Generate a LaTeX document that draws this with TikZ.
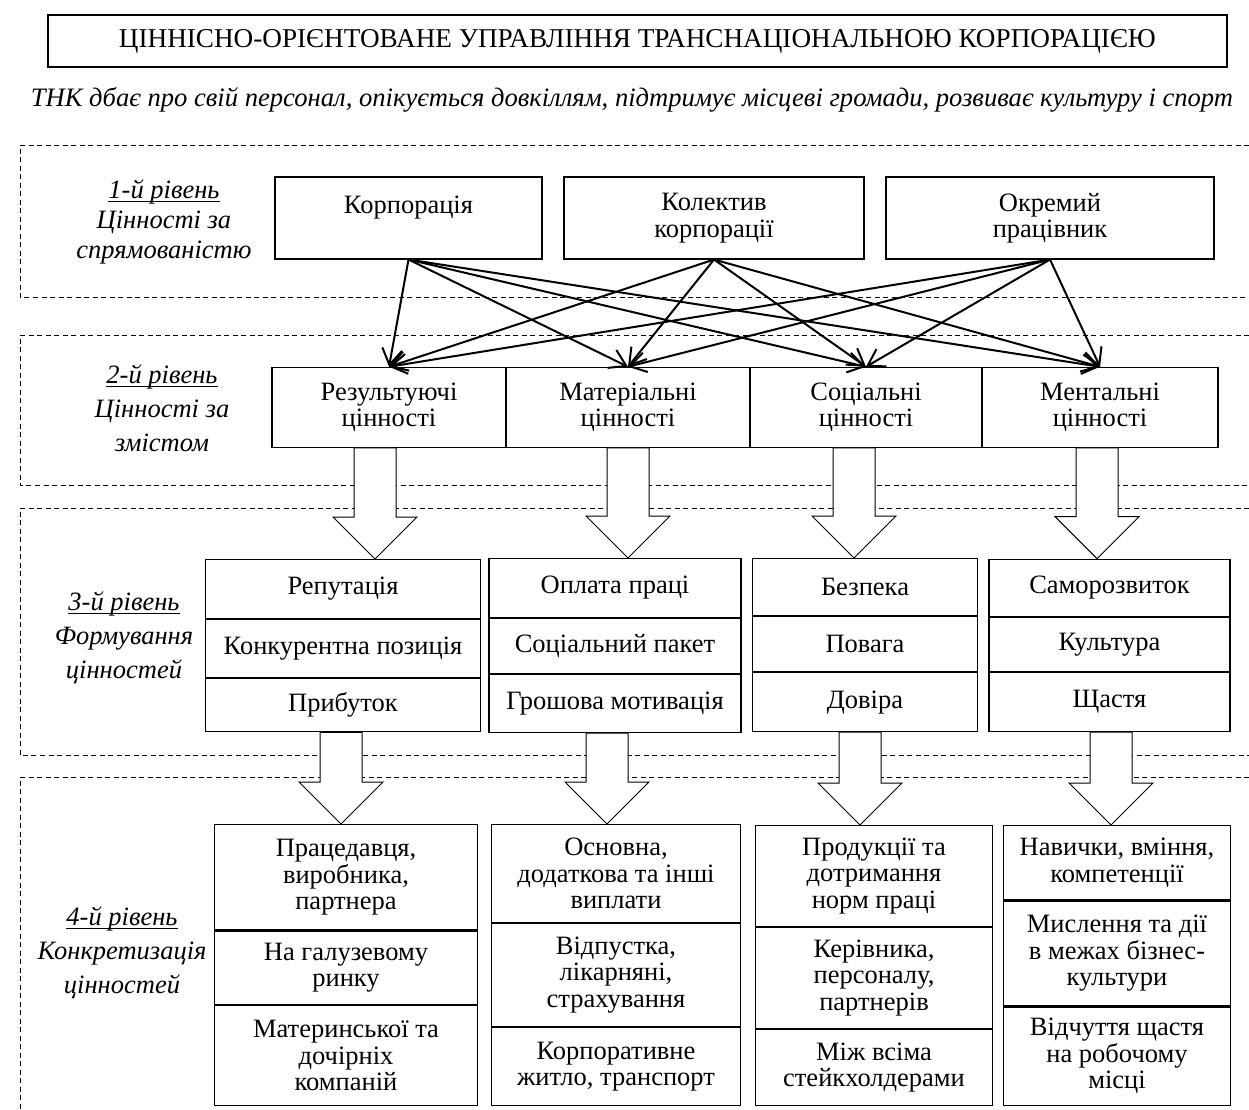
\documentclass[tikz,border=0pt]{standalone}
\usepackage{fontspec}
\setmainfont{Liberation Serif}
\usetikzlibrary{arrows.meta}
\newcommand\lvlline[1]{\setbox0\hbox{#1}\rlap{\rule[-3.5pt]{\wd0}{1.3pt}}\box0}
\tikzset{
  every picture/.style={
    x=1pt, y=-1pt,
    >={Straight Barb[length=16pt, width=20pt]}
  },
  frame/.style={dash pattern=on 5pt off 3.5pt, line width=0.9pt},
  box/.style={
    draw, line width=1.1pt, align=center, inner sep=2pt,
    font=\fontsize{26.5}{26.5}\selectfont
  },
  row/.style={box, anchor=north},
  level/.style={align=center, font=\itshape\fontsize{26.5}{34}\selectfont},
  bigarrow/.style={draw, fill=white, line width=1pt}
}

\begin{document}
\begin{tikzpicture}
  \useasboundingbox (0,0) rectangle (1249,1109);
  \foreach \t/\b in {145/297, 335/485, 508/755}
    \draw [frame] (1249,\t) -- (20,\t) -- (20,\b) -- (1249,\b);
  \draw [frame] (1249,777) -- (20,777) -- (20,1109);

  \node [box, minimum width=1179, minimum height=52, font=\fontsize{27.2}{27}\selectfont] (title) at (637.5,41)
    {ЦІННІСНО-ОРІЄНТОВАНЕ УПРАВЛІННЯ ТРАНСНАЦІОНАЛЬНОЮ КОРПОРАЦІЄЮ};
  \node [font=\itshape\fontsize{26.6}{27}\selectfont] (sub) at (632,100)
    {ТНК дбає про свій персонал, опікується довкіллям, підтримує місцеві громади, розвиває культуру і спорт};

  \node [level, font=\itshape\fontsize{26.5}{30}\selectfont] (l1) at (164,221.7)
    {\lvlline{1-й рівень}\\Цінності за\\спрямованістю};
  \node [level] (l2) at (162,408) {\lvlline{2-й рівень}\\Цінності за\\змістом};
  \node [level] (l3) at (124,638) {\lvlline{3-й рівень}\\Формування\\цінностей};
  \node [level] (l4) at (122,952.7) {\lvlline{4-й рівень}\\Конкретизація\\цінностей};

  \node [box, minimum width=267, minimum height=82] (k1) at (408.5,218) {Корпорація\\\mbox{}};
  \node [box, minimum width=300, minimum height=82] (k2) at (714,218) {Колектив\\корпорації};
  \node [box, minimum width=328, minimum height=82] (k3) at (1050,218) {Окремий\\працівник};

  \node [box, minimum width=234, minimum height=80] (r1) at (389,407.3) {Результуючі\\цінності};
  \node [box, minimum width=244, minimum height=80] (r2) at (628,407.3) {Матеріальні\\цінності};
  \node [box, minimum width=232, minimum height=80] (r3) at (866,407.3) {Соціальні\\цінності};
  \node [box, minimum width=236, minimum height=80] (r4) at (1100,407.3) {Ментальні\\цінності};

  \node [row, minimum width=274.5, minimum height=58.7] (a1) at (343,559) {Репутація};
  \node [row, minimum width=274.5, minimum height=58] (a2) at (a1.south) {Конкурентна позиція};
  \node [row, minimum width=274.5, minimum height=53.3] (a3) at (a2.south) {Прибуток};
  \node [row, minimum width=252, minimum height=58.7] (b1) at (615,558) {Оплата праці};
  \node [row, minimum width=252, minimum height=55] (b2) at (b1.south) {Соціальний пакет};
  \node [row, minimum width=252, minimum height=58] (b3) at (b2.south) {Грошова мотивація};
  \node [row, minimum width=225, minimum height=57] (c1) at (865,558) {Безпека};
  \node [row, minimum width=225, minimum height=55] (c2) at (c1.south) {Повага};
  \node [row, minimum width=225, minimum height=58.7] (c3) at (c2.south) {Довіра};
  \node [row, minimum width=241, minimum height=57.3] (d1) at (1109.5,558.7) {Саморозвиток};
  \node [row, minimum width=241, minimum height=54] (d2) at (d1.south) {Культура};
  \node [row, minimum width=241, minimum height=58.7] (d3) at (d2.south) {Щастя};

  \node [row, minimum width=263.5, minimum height=105.3] (e1) at (346,824) {Працедавця,\\виробника,\\партнера};
  \node [row, minimum width=263.5, minimum height=73.4] (e2) at (e1.south) {На галузевому\\ринку};
  \node [row, minimum width=263.5, minimum height=100] (e3) at (e2.south) {Материнської та\\дочірніх\\компаній};
  \node [row, minimum width=249, minimum height=97.7] (f1) at (616,824) {Основна,\\додаткова та інші\\виплати};
  \node [row, minimum width=249, minimum height=103.3] (f2) at (f1.south) {Відпустка,\\лікарняні,\\страхування};
  \node [row, minimum width=249, minimum height=77.7] (f3) at (f2.south) {Корпоративне\\житло, транспорт};
  \node [row, minimum width=237, minimum height=100.7] (g1) at (874,825) {Продукції та\\дотримання\\норм праці};
  \node [row, minimum width=237, minimum height=101] (g2) at (g1.south) {Керівника,\\персоналу,\\партнерів};
  \node [row, minimum width=237, minimum height=76] (g3) at (g2.south) {Між всіма\\стейкхолдерами};
  \node [row, minimum width=227.4, minimum height=74.3] (h1) at (1117,825) {Навички, вміння,\\компетенції};
  \node [row, minimum width=227.4, minimum height=105] (h2) at (h1.south) {Мислення та дії\\в межах бізнес-\\культури};
  \node [row, minimum width=227.4, minimum height=98.4] (h3) at (h2.south) {Відчуття щастя\\на робочому\\місці};

  \foreach \s in {k1,k2,k3}
    \foreach \t in {r1,r2,r3,r4}
      \draw [->, line width=2pt] (\s.south) -- (\t.north);

  \foreach \x/\s/\t in {375/r1/a1, 628/r2/b1, 854/r3/c1, 1097/r4/d1,
                        341/a3/e1, 607/b3/f1, 860/c3/g1, 1111/d3/h1} {
    \coordinate (bx) at (\x,0);
    \coordinate (bl) at (\x-21,0);
    \coordinate (br) at (\x+21,0);
    \path [bigarrow] (\t.north -| bx) coordinate (tip)
      -- ([shift={(-42,-42)}]tip) -- ([shift={(-21,-42)}]tip)
      -- (\s.south -| bl) -- (\s.south -| br)
      -- ([shift={(21,-42)}]tip) -- ([shift={(42,-42)}]tip) -- cycle;
  }
\end{tikzpicture}
\end{document}
